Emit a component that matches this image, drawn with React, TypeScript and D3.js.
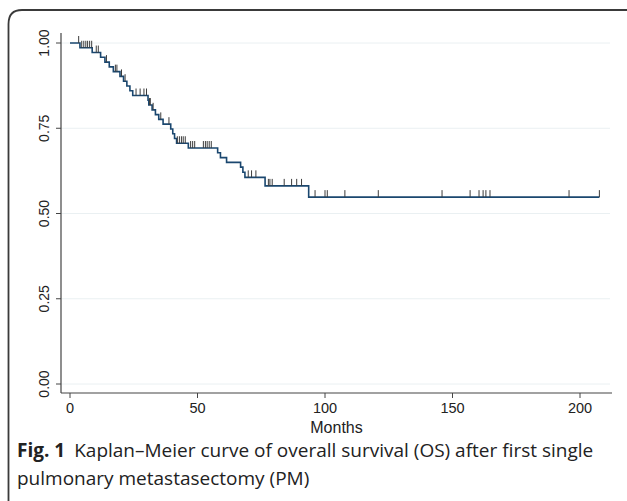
import React from "react";
import * as d3 from "d3";

// Kaplan–Meier step points: time of drop (months) and survival after it
const stepTimes = [0, 3.9, 8.7, 12.0, 13.7, 15.4, 17.0, 19.6, 21.0, 22.3, 23.5, 24.6, 30.6, 30.9, 32.2, 33.5, 34.8, 36.5, 39.5, 40.3, 41.0, 41.8, 46.4, 57.9, 59.0, 61.4, 66.9, 67.8, 68.6, 76.5, 93.6];
const stepSurv = [1.0, 0.986, 0.972, 0.958, 0.944, 0.93, 0.916, 0.902, 0.888, 0.874, 0.86, 0.846, 0.832, 0.818, 0.804, 0.79, 0.776, 0.762, 0.748, 0.734, 0.72, 0.706, 0.692, 0.678, 0.664, 0.65, 0.636, 0.621, 0.606, 0.581, 0.548];
const endTime = 207.6;

// censoring times (months)
const censorTimes = [3.4, 4.6, 5.4, 6.2, 6.9, 7.7, 8.5, 10.3, 11.1, 14.3, 17.8, 18.4, 20.2, 21.6, 25.9, 27.5, 29.0, 30.0, 31.2, 31.5, 32.6, 35.6, 38.8, 42.1, 42.9, 43.7, 44.4, 45.2, 47.3, 48.1, 48.9, 52.3, 53.1, 53.8, 54.6, 55.4, 69.9, 71.2, 72.9, 77.8, 78.4, 79.3, 84.0, 86.9, 88.9, 90.8, 96.1, 100.0, 100.9, 107.8, 120.9, 145.9, 156.9, 160.4, 162.0, 163.1, 164.7, 195.7, 207.6];

const xTicks = [0, 50, 100, 150, 200];
const yTicks = [0, 0.25, 0.5, 0.75, 1.0];
const xTitle = "Months";
const captionBold = "Fig. 1";
const captionLine1 = "Kaplan–Meier curve of overall survival (OS) after first single";
const captionLine2 = "pulmonary metastasectomy (PM)";

const W = 627;
const H = 501;

export default function App() {
  const x = d3.scaleLinear().domain([0, 200]).range([70, 580]);
  const y = d3.scaleLinear().domain([0, 1]).range([384, 43]);
  const plotLeft = 61;
  const plotRight = 612;
  const axisY = 393;

  const pts: [number, number][] = stepTimes.map((t, i) => [t, stepSurv[i]]);
  pts.push([endTime, stepSurv[stepSurv.length - 1]]);
  const line = d3
    .line<[number, number]>()
    .x((d) => x(d[0]))
    .y((d) => y(d[1]))
    .curve(d3.curveStepAfter);

  const survAt = (t: number) => {
    const i = d3.bisectRight(stepTimes, t) - 1;
    return stepSurv[Math.max(0, i)];
  };

  const font = "'Liberation Sans', Arial, sans-serif";
  const capFont = "'Open Sans', 'Noto Sans', sans-serif";
  const axisColor = "#444";
  const gridColor = "#eaf0f2";
  const curveColor = "#1a476f";

  return (
    <svg
      width={W}
      height={H}
      viewBox={`0 0 ${W} ${H}`}
      style={{ position: "absolute", left: 0, top: 0, background: "#fff" }}
    >
      {/* frame */}
      <path d={`M8.5,${H} L8.5,24 Q8.5,10 22,10 L${W},10`} fill="none" stroke="#3a3a3a" strokeWidth={1.8} />

      {/* gridlines */}
      {yTicks.map((v) => (
        <line key={"g" + v} x1={plotLeft} x2={610} y1={y(v)} y2={y(v)} stroke={gridColor} strokeWidth={1} />
      ))}

      {/* y axis */}
      <line x1={plotLeft} x2={plotLeft} y1={33} y2={axisY} stroke={axisColor} strokeWidth={1.2} />
      {yTicks.map((v) => (
        <g key={"y" + v}>
          <line x1={plotLeft - 5} x2={plotLeft} y1={y(v)} y2={y(v)} stroke={axisColor} strokeWidth={1} />
          <text
            transform={`translate(${plotLeft - 12},${y(v)}) rotate(-90)`}
            textAnchor="middle"
            fontFamily={font}
            fontSize={14}
            fill="#222"
          >
            {d3.format(".2f")(v)}
          </text>
        </g>
      ))}

      {/* x axis */}
      <line x1={plotLeft} x2={plotRight} y1={axisY} y2={axisY} stroke={axisColor} strokeWidth={1.2} />
      {xTicks.map((v) => (
        <g key={"x" + v}>
          <line x1={x(v)} x2={x(v)} y1={axisY} y2={axisY + 5} stroke={axisColor} strokeWidth={1} />
          <text x={x(v)} y={axisY + 20} textAnchor="middle" fontFamily={font} fontSize={14.5} fill="#222">
            {v}
          </text>
        </g>
      ))}
      <text x={(plotLeft + plotRight) / 2} y={axisY + 40} textAnchor="middle" fontFamily={font} fontSize={16} fill="#222">
        {xTitle}
      </text>

      {/* KM curve */}
      <path d={line(pts) || ""} fill="none" stroke={curveColor} strokeWidth={1.6} />

      {/* censor marks */}
      {censorTimes.map((t, i) => (
        <line
          key={"c" + i}
          x1={x(t)}
          x2={x(t)}
          y1={y(survAt(t))}
          y2={y(survAt(t)) - 7}
          stroke="#3c3c3c"
          strokeWidth={1}
        />
      ))}

      {/* caption */}
      <text x={17} y={457} fontFamily={capFont} fontSize={19} fill="#222">
        <tspan fontWeight="bold">{captionBold}</tspan>
        <tspan dx={9}>{captionLine1}</tspan>
      </text>
      <text x={17} y={485} fontFamily={capFont} fontSize={19} fill="#222">
        {captionLine2}
      </text>
    </svg>
  );
}
